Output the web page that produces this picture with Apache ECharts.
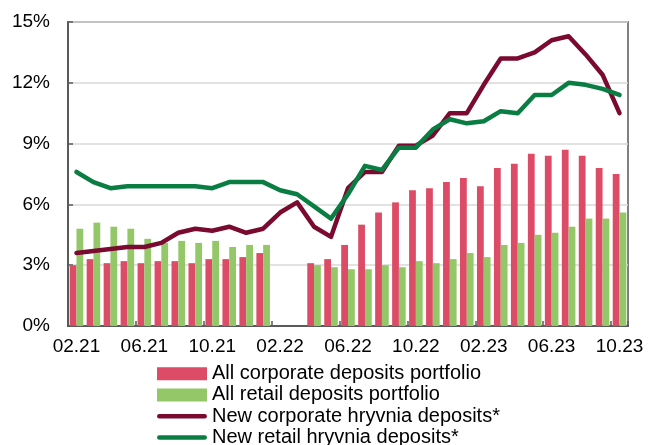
<!DOCTYPE html>
<html>
<head>
<meta charset="utf-8">
<script src="https://cdn.jsdelivr.net/npm/echarts@6/dist/echarts.min.js"></script>
<style>
  html, body { margin: 0; padding: 0; background: #fff; }
  #chart { width: 648px; height: 445px; }
</style>
</head>
<body>
<div id="chart"></div>
<script>
// Monthly interest rates on hryvnia deposits, %
const months = [
  '02.21', '03.21', '04.21', '05.21', '06.21', '07.21', '08.21', '09.21', '10.21', '11.21', '12.21',
  '01.22', '02.22', '03.22', '04.22', '05.22', '06.22', '07.22', '08.22', '09.22', '10.22', '11.22',
  '12.22', '01.23', '02.23', '03.23', '04.23', '05.23', '06.23', '07.23', '08.23', '09.23', '10.23'
];

// Portfolio rates (bars); no data for 02.22 and 03.22
const corporatePortfolio = [
  3.0, 3.3, 3.1, 3.2, 3.1, 3.2, 3.2, 3.1, 3.3, 3.3, 3.4,
  3.6, null, null, 3.1, 3.3, 4.0, 5.0, 5.6, 6.1, 6.7, 6.8,
  7.1, 7.3, 6.9, 7.8, 8.0, 8.5, 8.4, 8.7, 8.4, 7.8, 7.5
];
const retailPortfolio = [
  4.8, 5.1, 4.9, 4.8, 4.3, 4.1, 4.2, 4.1, 4.2, 3.9, 4.0,
  4.0, null, null, 3.0, 2.9, 2.8, 2.8, 3.0, 2.9, 3.2, 3.1,
  3.3, 3.6, 3.4, 4.0, 4.1, 4.5, 4.6, 4.9, 5.3, 5.3, 5.6
];

// Rates on new hryvnia deposits (lines)
const newCorporate = [
  3.6, 3.7, 3.8, 3.9, 3.9, 4.1, 4.6, 4.8, 4.7, 4.9, 4.6,
  4.8, 5.6, 6.1, 4.9, 4.4, 6.8, 7.6, 7.6, 8.9, 8.9, 9.4,
  10.5, 10.5, 11.9, 13.2, 13.2, 13.5, 14.1, 14.3, 13.4, 12.4, 10.5
];
const newRetail = [
  7.6, 7.1, 6.8, 6.9, 6.9, 6.9, 6.9, 6.9, 6.8, 7.1, 7.1,
  7.1, 6.7, 6.5, 5.9, 5.3, 6.5, 7.9, 7.7, 8.8, 8.8, 9.7,
  10.2, 10.0, 10.1, 10.6, 10.5, 11.4, 11.4, 12.0, 11.9, 11.7, 11.4
];

const seriesNames = [
  'All corporate deposits portfolio',
  'All retail deposits portfolio',
  'New corporate hryvnia deposits*',
  'New retail hryvnia deposits*'
];

const FONT = '"Liberation Sans", Arial, sans-serif';
const AXIS_COLOR = '#5a5a5a';
// Capsule-shaped legend key for the line series
const LINE_KEY = 'path://M2.5,0 L51.5,0 A2.5,2.5 0 0 1 51.5,5 L2.5,5 A2.5,2.5 0 0 1 2.5,0 Z';

const chart = echarts.init(document.getElementById('chart'), null, { renderer: 'canvas' });

chart.setOption({
  animation: false,
  backgroundColor: '#ffffff',
  textStyle: { fontFamily: FONT },
  grid: {
    left: 68, right: 20, top: 22, bottom: 119,
    show: true,
    borderColor: '#808080',
    borderWidth: 2,
    containLabel: false
  },
  legend: {
    orient: 'vertical',
    left: 157,
    top: 363,
    height: 100,
    padding: 0,
    itemWidth: 50,
    itemHeight: 13,
    itemGap: 0,
    textStyle: { fontSize: 20, color: '#000', fontFamily: FONT, lineHeight: 21.3 },
    data: [
      { name: seriesNames[0], icon: 'rect' },
      { name: seriesNames[1], icon: 'rect' },
      { name: seriesNames[2], icon: LINE_KEY },
      { name: seriesNames[3], icon: LINE_KEY }
    ]
  },
  xAxis: {
    type: 'category',
    data: months,
    boundaryGap: true,
    axisLine: { show: true, lineStyle: { color: AXIS_COLOR, width: 2 } },
    axisTick: { show: true, inside: true, interval: 3, length: 5, lineStyle: { color: AXIS_COLOR, width: 1.5 } },
    axisLabel: { interval: 3, fontSize: 19, color: '#000', margin: 11, fontFamily: FONT },
    splitLine: { show: false }
  },
  yAxis: {
    type: 'value',
    min: 0, max: 15, interval: 3,
    axisLine: { show: true, lineStyle: { color: AXIS_COLOR, width: 2 } },
    axisTick: { show: true, inside: true, length: 5, lineStyle: { color: AXIS_COLOR, width: 1.5 } },
    axisLabel: { formatter: '{value}%', fontSize: 19, color: '#000', margin: 18, fontFamily: FONT },
    splitLine: { show: true, lineStyle: { color: '#d9d9d9', width: 1.5 } }
  },
  series: [
    {
      name: seriesNames[0],
      type: 'bar',
      data: corporatePortfolio,
      barWidth: '40%',
      barGap: '0%',
      itemStyle: { color: '#dc4c66' },
      z: 2
    },
    {
      name: seriesNames[1],
      type: 'bar',
      data: retailPortfolio,
      barWidth: '40%',
      barGap: '0%',
      itemStyle: { color: '#93c768' },
      z: 2
    },
    {
      name: seriesNames[2],
      type: 'line',
      data: newCorporate,
      symbol: 'none',
      showSymbol: false,
      lineStyle: { color: '#7a0a30', width: 4.5, cap: 'round', join: 'round' },
      itemStyle: { color: '#7a0a30' },
      z: 3
    },
    {
      name: seriesNames[3],
      type: 'line',
      data: newRetail,
      symbol: 'none',
      showSymbol: false,
      lineStyle: { color: '#0a7d42', width: 4.5, cap: 'round', join: 'round' },
      itemStyle: { color: '#0a7d42' },
      z: 4
    }
  ]
});
</script>
</body>
</html>
